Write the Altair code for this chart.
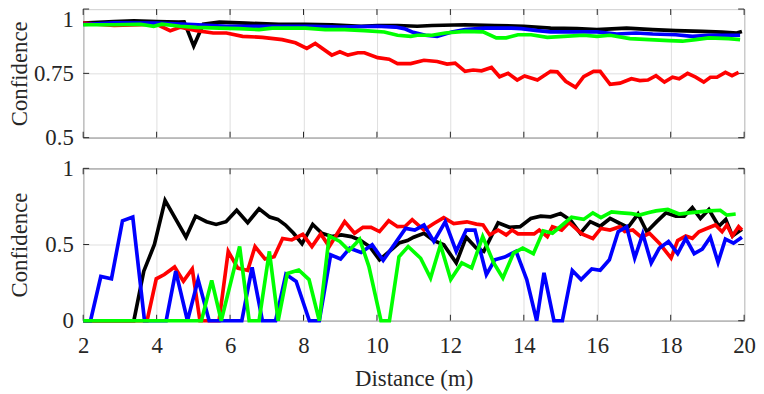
import altair as alt
import pandas as pd

# ---------------- data ----------------
X_TICKS = [2, 4, 6, 8, 10, 12, 14, 16, 18, 20]
Y_TICKS_TOP = [0.5, 0.75, 1.0]
Y_TICKS_BOTTOM = [0.0, 0.5, 1.0]

# top panel
top_black_x = [2.0, 2.84, 3.38, 4.0, 4.6, 4.75, 5.01, 5.27, 5.71, 6.43, 7.33, 8.05, 8.77, 9.57, 10.02, 10.56,
               11.1, 11.5, 12.4, 13.21, 14.0, 14.73, 15.45, 15.99, 16.8, 17.51, 18.14, 18.86, 19.4, 19.8, 19.94]
top_black_y = [0.945, 0.951, 0.954, 0.951, 0.949, 0.95, 0.856, 0.941, 0.949, 0.945, 0.941, 0.941, 0.939, 0.933,
               0.936, 0.936, 0.933, 0.936, 0.939, 0.936, 0.933, 0.926, 0.924, 0.92, 0.926, 0.92, 0.916, 0.913,
               0.91, 0.907, 0.913]

top_red_x = [2.0, 2.84, 3.56, 4.0, 4.37, 4.64, 5.09, 5.54, 5.9, 6.34, 6.88, 7.42, 7.78, 8.09, 8.32, 8.77, 8.99,
             9.21, 9.48, 9.66, 10.02, 10.33, 10.56, 10.92, 11.28, 11.64, 11.91, 12.13, 12.4, 12.62, 12.85, 13.12,
             13.34, 13.57, 13.82, 14.02, 14.37, 14.73, 14.91, 15.14, 15.41, 15.63, 15.9, 16.08, 16.35, 16.62,
             16.93, 17.16, 17.38, 17.6, 17.83, 18.05, 18.23, 18.46, 18.68, 18.9, 19.08, 19.26, 19.49, 19.67, 19.85]
top_red_y = [0.945, 0.936, 0.939, 0.941, 0.916, 0.929, 0.916, 0.907, 0.907, 0.894, 0.89, 0.881, 0.869, 0.847,
             0.866, 0.821, 0.834, 0.821, 0.83, 0.83, 0.811, 0.805, 0.788, 0.788, 0.801, 0.796, 0.786, 0.79, 0.758,
             0.763, 0.76, 0.773, 0.737, 0.75, 0.724, 0.74, 0.724, 0.758, 0.756, 0.719, 0.696, 0.737, 0.758, 0.758,
             0.707, 0.712, 0.729, 0.722, 0.724, 0.741, 0.716, 0.735, 0.729, 0.75, 0.735, 0.716, 0.735, 0.735,
             0.754, 0.741, 0.754]

top_blue_x = [2.0, 2.84, 4.0, 5.0, 5.9, 7.0, 8.23, 9.0, 10.0, 10.5, 10.74, 10.96, 11.32, 11.64, 12.04, 12.4,
              12.94, 13.66, 13.93, 14.37, 14.73, 15.45, 15.99, 16.53, 17.06, 17.51, 18.14, 18.59, 19.04, 19.49, 19.89]
top_blue_y = [0.94, 0.946, 0.945, 0.94, 0.933, 0.933, 0.933, 0.93, 0.933, 0.93, 0.924, 0.911, 0.898, 0.894,
              0.911, 0.92, 0.926, 0.926, 0.924, 0.916, 0.911, 0.911, 0.911, 0.903, 0.907, 0.903, 0.9, 0.894,
              0.898, 0.898, 0.898]

top_green_x = [2.0, 2.84, 3.56, 3.92, 4.14, 4.64, 5.09, 5.71, 6.25, 6.79, 7.15, 8.05, 8.59, 9.12, 9.66, 10.2,
               10.56, 10.92, 11.1, 11.5, 11.86, 12.4, 12.89, 13.25, 13.52, 13.84, 14.2, 14.64, 15.09, 15.63,
               15.99, 16.35, 16.89, 17.42, 17.96, 18.32, 18.68, 19.04, 19.58, 19.89]
top_green_y = [0.939, 0.939, 0.941, 0.933, 0.941, 0.933, 0.929, 0.926, 0.924, 0.92, 0.926, 0.926, 0.92, 0.92,
               0.916, 0.911, 0.898, 0.894, 0.898, 0.898, 0.907, 0.913, 0.911, 0.888, 0.888, 0.9, 0.9, 0.89,
               0.894, 0.898, 0.894, 0.898, 0.885, 0.881, 0.877, 0.875, 0.881, 0.888, 0.885, 0.881]

# bottom panel
bot_black_x = [2.0, 3.38, 3.65, 3.94, 4.23, 4.8, 5.06, 5.36, 5.62, 5.89, 6.18, 6.48, 6.79, 7.08, 7.3, 7.51,
               7.73, 7.96, 8.25, 8.5, 8.77, 9.03, 9.3, 9.53, 9.8, 10.07, 10.34, 10.6, 10.83, 11.0, 11.28, 11.55,
               11.82, 12.16, 12.43, 12.71, 12.91, 13.3, 13.61, 13.9, 14.19, 14.46, 14.73, 15.0, 15.27, 15.54,
               15.81, 16.08, 16.35, 16.62, 16.84, 17.11, 17.35, 17.62, 17.87, 18.14, 18.37, 18.59, 18.81, 19.04,
               19.31, 19.5, 19.68, 19.94]
bot_black_y = [0, 0, 0.325, 0.5, 0.79, 0.548, 0.686, 0.65, 0.632, 0.65, 0.725, 0.643, 0.735, 0.68, 0.665,
               0.628, 0.574, 0.505, 0.632, 0.574, 0.552, 0.563, 0.552, 0.53, 0.487, 0.4, 0.455, 0.51, 0.526,
               0.548, 0.574, 0.526, 0.498, 0.379, 0.548, 0.476, 0.455, 0.643, 0.613, 0.617, 0.671, 0.686, 0.682,
               0.703, 0.66, 0.574, 0.65, 0.62, 0.671, 0.638, 0.613, 0.7, 0.584, 0.65, 0.708, 0.686, 0.686, 0.742,
               0.671, 0.73, 0.62, 0.665, 0.556, 0.6]

bot_red_x = [2.0, 3.74, 3.99, 4.21, 4.49, 4.73, 4.97, 5.18, 5.7, 5.95, 6.21, 6.48, 6.68, 6.95, 7.2, 7.43,
             7.68, 7.98, 8.23, 8.47, 8.7, 9.12, 9.39, 9.62, 9.84, 10.07, 10.32, 10.56, 10.77, 10.96, 11.28,
             11.55, 11.82, 12.09, 12.45, 12.71, 12.89, 13.07, 13.3, 13.52, 13.68, 13.84, 14.28, 14.42, 14.64,
             14.78, 15.03, 15.23, 15.58, 15.88, 16.1, 16.35, 16.62, 16.75, 16.97, 17.2, 17.42, 17.69, 18.01,
             18.19, 18.41, 18.59, 18.77, 18.95, 19.22, 19.4, 19.53, 19.68, 19.85, 19.94]
bot_red_y = [0, 0, 0.275, 0.303, 0.353, 0.26, 0.34, 0, 0, 0.455, 0.345, 0.33, 0.487, 0.405, 0.42, 0.54, 0.53,
             0.567, 0.487, 0.57, 0.487, 0.65, 0.574, 0.613, 0.613, 0.585, 0.656, 0.617, 0.62, 0.663, 0.595,
             0.638, 0.677, 0.638, 0.649, 0.634, 0.628, 0.563, 0.595, 0.563, 0.595, 0.57, 0.57, 0.595, 0.552,
             0.617, 0.595, 0.645, 0.57, 0.54, 0.606, 0.595, 0.617, 0.585, 0.595, 0.548, 0.574, 0.509, 0.411,
             0.526, 0.556, 0.541, 0.584, 0.602, 0.628, 0.584, 0.628, 0.556, 0.617, 0.595]

bot_blue_x = [2.0, 2.2, 2.48, 2.77, 3.07, 3.35, 3.67, 4.26, 4.52, 4.84, 5.13, 5.43, 6.32, 6.6, 6.88, 7.24,
              7.52, 7.8, 8.16, 8.43, 8.74, 9.01, 9.26, 9.57, 9.87, 10.17, 10.5, 10.78, 11.03, 11.28, 11.55,
              11.86, 12.16, 12.43, 12.67, 12.98, 13.21, 13.48, 13.79, 14.08, 14.35, 14.55, 14.82, 15.05, 15.32,
              15.56, 15.85, 16.08, 16.33, 16.57, 16.8, 17.02, 17.24, 17.47, 17.69, 17.94, 18.19, 18.41, 18.64,
              18.86, 19.08, 19.29, 19.49, 19.71, 19.94]
bot_blue_y = [0, 0, 0.29, 0.275, 0.656, 0.68, 0, 0, 0.325, 0, 0.27, 0, 0, 0.35, 0, 0, 0.305, 0.258, 0, 0,
              0.433, 0.405, 0.476, 0.448, 0.498, 0.396, 0.509, 0.606, 0.595, 0.628, 0.52, 0.649, 0.455, 0.595,
              0.595, 0.303, 0.4, 0.418, 0.455, 0.27, 0, 0.314, 0, 0, 0.33, 0.27, 0.34, 0.331, 0.4, 0.584, 0.617,
              0.411, 0.57, 0.379, 0.476, 0.52, 0.44, 0.541, 0.44, 0.47, 0.548, 0.383, 0.535, 0.509, 0.548]

bot_green_x = [2.0, 5.22, 5.5, 5.76, 6.26, 6.52, 6.79, 7.07, 7.31, 7.56, 7.87, 8.15, 8.43, 8.7, 8.99, 9.24,
               9.53, 9.78, 10.11, 10.34, 10.6, 10.85, 11.19, 11.46, 11.73, 12.01, 12.31, 12.58, 12.88, 13.18,
               13.43, 13.72, 13.97, 14.26, 14.53, 14.78, 15.05, 15.3, 15.63, 15.88, 16.1, 16.39, 16.66, 16.93,
               17.15, 17.38, 17.6, 17.92, 18.23, 18.5, 18.77, 19.04, 19.35, 19.53, 19.77]
bot_green_y = [0, 0, 0.265, 0, 0.487, 0, 0, 0.455, 0, 0.31, 0.333, 0.27, 0, 0.556, 0.52, 0.46, 0.535, 0.357,
               0, 0, 0.42, 0.487, 0.41, 0.28, 0.498, 0.27, 0.379, 0.346, 0.552, 0.379, 0.28, 0.444, 0.476,
               0.44, 0.59, 0.574, 0.628, 0.68, 0.665, 0.708, 0.677, 0.714, 0.708, 0.703, 0.693, 0.708, 0.721,
               0.73, 0.7, 0.708, 0.714, 0.721, 0.725, 0.693, 0.7]

# ---------------- style ----------------
FONT = "Liberation Serif"
TEXT = "#262626"
GRID = "#dfdfdf"
FS = 23
FS_T = 23
W = 668
H_TOP = 130
H_BOT = 154
TICK = 6
LINE_W = 3.7
SERIES_COLORS = [("black", "#000000"), ("red", "#ff0000"), ("blue", "#0000ff"), ("green", "#00ff00")]


def df(xs, ys, name):
    if len(xs) != len(ys):
        raise ValueError(f"{name}: {len(xs)} x vs {len(ys)} y")
    return pd.DataFrame({"x": xs, "y": ys})


top_series = {
    "black": df(top_black_x, top_black_y, "top black"),
    "red": df(top_red_x, top_red_y, "top red"),
    "blue": df(top_blue_x, top_blue_y, "top blue"),
    "green": df(top_green_x, top_green_y, "top green"),
}
bot_series = {
    "black": df(bot_black_x, bot_black_y, "bot black"),
    "red": df(bot_red_x, bot_red_y, "bot red"),
    "blue": df(bot_blue_x, bot_blue_y, "bot blue"),
    "green": df(bot_green_x, bot_green_y, "bot green"),
}


def make_panel(series, y_domain, y_ticks, height, bottom):
    x_scale = alt.Scale(domain=[2, 20], nice=False, zero=False)
    y_scale = alt.Scale(domain=y_domain, nice=False, zero=False)

    x_kw = dict(values=X_TICKS, grid=True, gridColor=GRID, gridWidth=1, ticks=False, tickSize=0,
                domain=False, labels=bottom, labelFont=FONT, labelFontSize=FS, labelColor=TEXT,
                labelPadding=14, labelFlush=False, labelOverlap=False, format="d")
    if bottom:
        x_kw.update(title="Distance (m)", titleFont=FONT, titleFontSize=FS_T, titleFontWeight="normal",
                    titleColor=TEXT, titlePadding=10)
    else:
        x_kw.update(title=None)
    x_axis = alt.Axis(**x_kw)

    y_kw = dict(values=y_ticks, grid=True, gridColor=GRID, gridWidth=1, ticks=False, tickSize=0,
                domain=False, labelFont=FONT, labelFontSize=FS, labelColor=TEXT, labelPadding=10,
                labelFlush=False, labelOverlap=False,
                labelExpr="datum.value == 0.75 ? '0.75' : datum.value == 0.5 ? '0.5' : format(datum.value, 'd')",
                title="Confidence", titleFont=FONT, titleFontSize=FS_T, titleFontWeight="normal",
                titleColor=TEXT, titleX=-52, titleY=height / 2, titleAngle=270)
    if not bottom:
        y_kw["labelBaseline"] = {"condition": {"test": "datum.value == 1", "value": "top"}, "value": "middle"}
    y_axis = alt.Axis(**y_kw)

    xt = pd.DataFrame({"x": X_TICKS})
    yt = pd.DataFrame({"y": y_ticks})
    X = alt.X("x:Q", scale=x_scale, axis=x_axis)
    Y = alt.Y("y:Q", scale=y_scale, axis=y_axis)

    layers = [
        alt.Chart(xt).mark_rule(color=TEXT, strokeWidth=1).encode(x=X, y=alt.value(0), y2=alt.value(TICK)),
        alt.Chart(xt).mark_rule(color=TEXT, strokeWidth=1).encode(x=X, y=alt.value(height),
                                                                  y2=alt.value(height - TICK)),
        alt.Chart(yt).mark_rule(color=TEXT, strokeWidth=1).encode(y=Y, x=alt.value(0), x2=alt.value(TICK)),
        alt.Chart(yt).mark_rule(color=TEXT, strokeWidth=1).encode(y=Y, x=alt.value(W), x2=alt.value(W - TICK)),
    ]
    for name, color in SERIES_COLORS:
        layers.append(
            alt.Chart(series[name]).mark_line(color=color, strokeWidth=LINE_W).encode(x=X, y=Y)
        )
    return alt.layer(*layers).properties(width=W, height=height)


top = make_panel(top_series, [0.5, 1.0], Y_TICKS_TOP, H_TOP, bottom=False)
bot = make_panel(bot_series, [0.0, 1.0], Y_TICKS_BOTTOM, H_BOT, bottom=True)

chart = (
    alt.vconcat(top, bot, spacing=31, bounds="flush")
    .properties(padding={"top": -2, "left": 0, "right": 0, "bottom": 0}, background="white")
    .configure_view(stroke=TEXT, strokeWidth=1)
)

chart.save("out.html", embed_options={"renderer": "svg", "actions": False})
